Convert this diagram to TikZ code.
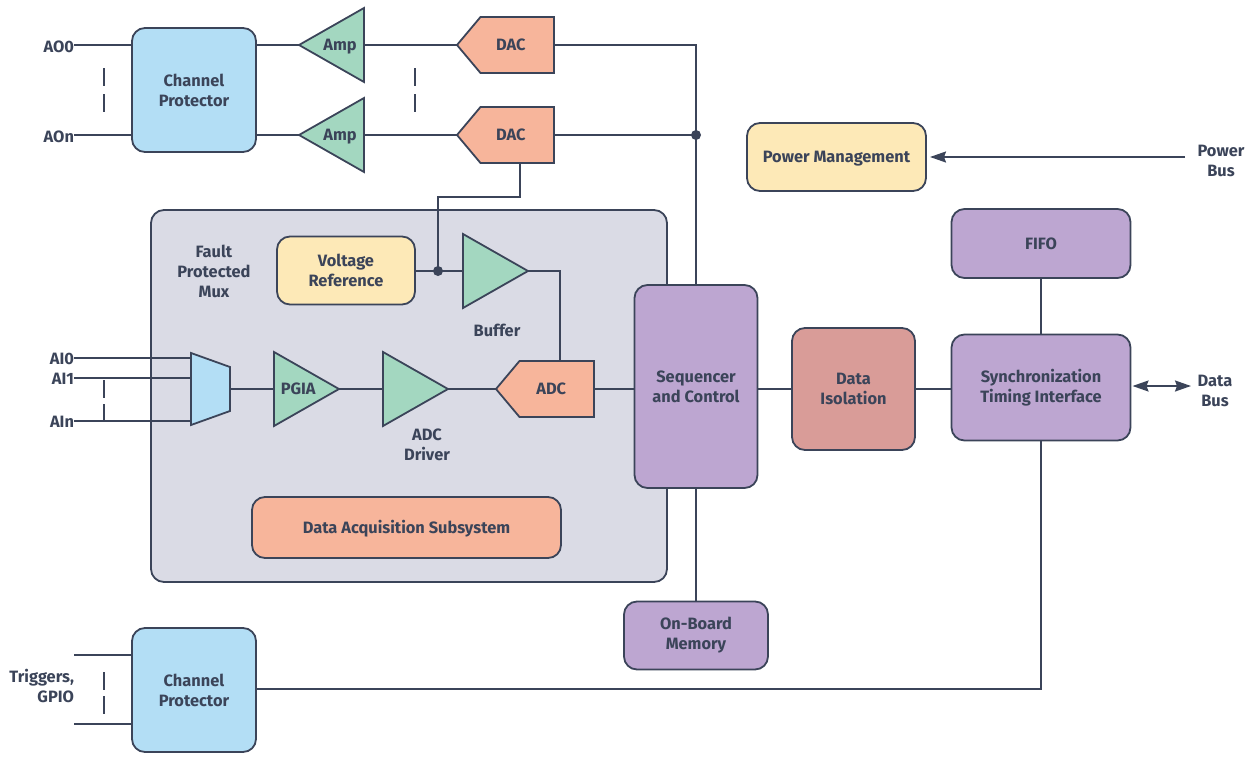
\documentclass[tikz,border=0pt]{standalone}
\usepackage{fontspec}
\setmainfont{Fira Sans}
\usepackage{xcolor}
\usepackage{tikz}
\usetikzlibrary{arrows.meta,shapes.geometric,shapes.symbols}
\definecolor{ink}{HTML}{3B4459}
\definecolor{bluefill}{HTML}{B3DEF5}
\definecolor{greenfill}{HTML}{A3D7C0}
\definecolor{orangefill}{HTML}{F7B59B}
\definecolor{yellowfill}{HTML}{FDE9B7}
\definecolor{purplefill}{HTML}{BDA6D1}
\definecolor{redfill}{HTML}{D99C98}
\definecolor{grayfill}{HTML}{DADBE5}
\newcommand{\labelfont}{\fontsize{16.4}{20}\selectfont\bfseries}
\tikzset{
  wire/.style={draw=ink,line width=1.8pt},
  blockbox/.style={draw=ink,line width=1.8pt,rounded corners=13pt,align=center,
    font=\labelfont,text=ink,inner sep=0pt,outer sep=0pt},
  oneline/.style={text height=11pt,text depth=0pt},
  tag/.style={font=\labelfont,text=ink,align=center,inner sep=0pt,outer sep=0pt},
  amptri/.style={isosceles triangle,isosceles triangle stretches,draw=ink,line width=1.8pt,
    fill=greenfill,minimum height=65pt,minimum width=74pt,inner sep=0pt,outer sep=0pt,
    font=\labelfont,text=ink,oneline},
  conv/.style={signal,draw=ink,line width=1.8pt,fill=orangefill,signal pointer angle=100,
    minimum width=97pt,minimum height=56pt,inner sep=0pt,outer sep=0pt,
    font=\labelfont,text=ink,oneline},
}
\begin{document}
\begin{tikzpicture}[x=1pt,y=-1pt]
    \useasboundingbox (0,0) rectangle (1252,760);

    % subsystem panel
    \node[blockbox,fill=grayfill,minimum width=516pt,minimum height=372pt] (panel) at (409,396) {};

    % output channels
    \node[blockbox,fill=bluefill,minimum width=124pt,minimum height=124pt] (chantop) at (194,90) {Channel\\Protector};
    \node[amptri,shape border rotate=180,anchor=apex] (amp0) at (299,45) {Amp\hspace{3pt}};
    \node[amptri,shape border rotate=180,anchor=apex] (amp1) at (299,135) {Amp\hspace{3pt}};
    \node[conv,signal to=west,anchor=west] (dac0) at (457,45) {\hspace*{-13pt}DAC};
    \node[conv,signal to=west,anchor=west] (dac1) at (457,135) {\hspace*{-13pt}DAC};

    % blocks on the right
    \node[blockbox,oneline,fill=yellowfill,minimum width=179pt,minimum height=68pt] (power) at (836.5,157) {Power Management};
    \node[blockbox,fill=purplefill,minimum width=123pt,minimum height=203pt] (seq) at (696,386.5) {Sequencer\\and Control};
    \node[blockbox,fill=redfill,minimum width=123pt,minimum height=122pt] (iso) at (853.5,389) {Data\\Isolation};
    \node[blockbox,fill=purplefill,minimum width=179pt,minimum height=106pt] (sync) at (1041,387.5) {Synchronization\\Timing Interface};
    \node[blockbox,oneline,fill=purplefill,minimum width=179pt,minimum height=69pt] (fifo) at (1041,243.5) {FIFO};
    \node[blockbox,fill=purplefill,minimum width=144pt,minimum height=68pt] (memory) at (696,635.5) {On-Board\\Memory};
    \node[blockbox,fill=bluefill,minimum width=124pt,minimum height=124pt] (chanbot) at (194,690) {Channel\\Protector};

    % inside the panel
    \node[blockbox,fill=yellowfill,minimum width=138pt,minimum height=68pt] (vref) at (346,270.5) {Voltage\\Reference};
    \node[amptri,anchor=lower side] (buffer) at (463,271) {};
    \node[amptri,anchor=lower side] (pgia) at (274,389) {PGIA};
    \node[amptri,anchor=lower side] (driver) at (383,389) {};
    \node[conv,signal to=west,anchor=west,minimum width=98pt] (adc) at (496,389) {\hspace*{-11pt}ADC};
    \node[blockbox,oneline,fill=orangefill,minimum width=309pt,minimum height=61pt] (daq) at (406.5,527.5) {Data Acquisition Subsystem};
    \draw[wire,fill=bluefill] (191,353) -- (230,367) -- (230,411) -- (191,425) -- cycle;
    \coordinate (muxin0) at (191,358);
    \coordinate (muxin1) at (191,378);
    \coordinate (muxinn) at (191,421);
    \coordinate (muxout) at (230,389);

    \node[tag] (faultlabel) at (214,271) {Fault\\Protected\\Mux};
    \node[tag] (bufferlabel) at (497,330.5) {Buffer};
    \node[tag] (driverlabel) at (427,445) {ADC\\Driver};

    % free ends on the left
    \node[tag,anchor=east] (ao0) at (74,47) {AO0};
    \node[tag,anchor=east] (aon) at (74,137) {AOn};
    \node[tag,anchor=east] (ai0) at (74,359) {AI0};
    \node[tag,anchor=east] (ai1) at (74,379) {AI1};
    \node[tag,anchor=east] (ain) at (74,422) {AIn};
    \node[tag,align=right,anchor=east] (trig) at (74,686) {Triggers,\\GPIO};
    \coordinate (trigtop) at (74,655);
    \coordinate (trigbot) at (74,724);

    \draw[wire] (ao0.east |- 0,45) -- (chantop.west |- 0,45);
    \draw[wire] (aon.east |- 0,135) -- (chantop.west |- 0,135);
    \draw[wire] (chantop.east |- 0,45) -- (amp0.apex);
    \draw[wire] (chantop.east |- 0,135) -- (amp1.apex);
    \draw[wire] (amp0.lower side) -- (dac0.west);
    \draw[wire] (amp1.lower side) -- (dac1.west);

    \coordinate (joint) at (696,135);
    \draw[wire] (dac0.east) -- (joint |- dac0.east) -- (seq.north);
    \draw[wire] (dac1.east) -- (joint);
    \fill[ink] (joint) circle(5);

    \coordinate (refjoint) at (438,271);
    \draw[wire] (520,0 |- dac1.south) -- (520,197) -- (438,197) -- (refjoint);
    \draw[wire] (vref.east |- refjoint) -- (buffer.lower side);
    \fill[ink] (refjoint) circle(5);
    \draw[wire] (buffer.apex) -- (560,271) -- (560,0 |- adc.north);

    \draw[wire] (ai0.east |- muxin0) -- (muxin0);
    \draw[wire] (ai1.east |- muxin1) -- (muxin1);
    \draw[wire] (ain.east |- muxinn) -- (muxinn);
    \draw[wire] (muxout) -- (pgia.lower side);
    \draw[wire] (pgia.apex) -- (driver.lower side);
    \draw[wire] (driver.apex) -- (adc.west);
    \draw[wire] (adc.east) -- (seq.west |- adc.east);
    \draw[wire] (seq.east |- iso.west) -- (iso.west);
    \draw[wire] (iso.east) -- (sync.west |- iso.east);
    \draw[wire] (fifo.south) -- (sync.north);
    \draw[wire] (seq.south) -- (memory.north);
    \draw[wire] (chanbot.east |- 0,689) -- (1041,689) -- (sync.south);
    \draw[wire] (trigtop) -- (chanbot.west |- trigtop);
    \draw[wire] (trigbot) -- (chanbot.west |- trigbot);

    \begin{scope}[>={Stealth[length=16pt,width=11pt,inset=2pt]}]
        \node[tag] (powerbus) at (1221,161) {Power\\Bus};
        \node[tag] (databus) at (1215,391) {Data\\Bus};
        \coordinate (powerend) at (1185,157);
        \coordinate (busend) at (1191,386);
        \draw[wire,->] (powerend) -- ([xshift=4pt]power.east |- powerend);
        \draw[wire,<->] ([xshift=2pt]sync.east |- busend) -- (busend);
    \end{scope}

    % break marks
    \foreach \bx/\by in {104/68,104/94,415/68,415/94,104/672,104/696,104/380,104/404}
        \draw[wire] (\bx,\by) -- +(0,18);
\end{tikzpicture}
\end{document}
